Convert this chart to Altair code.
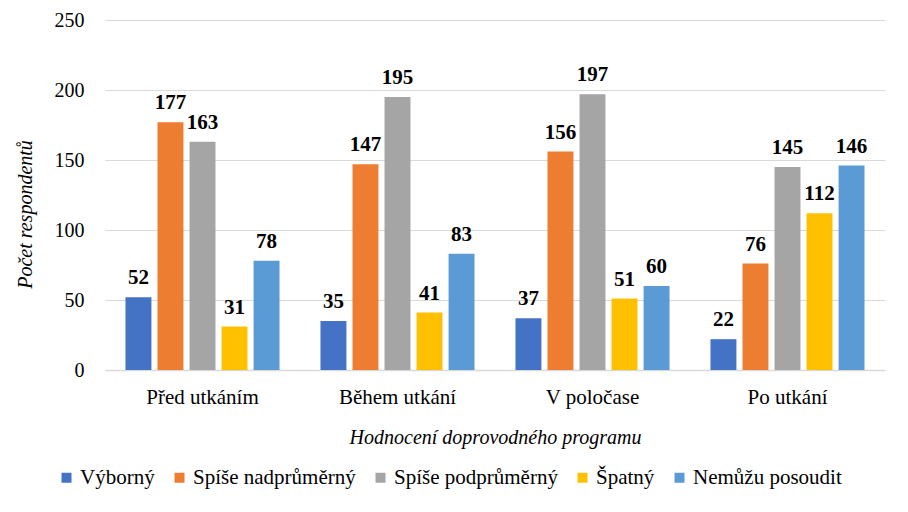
import altair as alt
import pandas as pd

categories = ["Před utkáním", "Během utkání", "V poločase", "Po utkání"]
series = ["Výborný", "Spíše nadprůměrný", "Spíše podprůměrný", "Špatný", "Nemůžu posoudit"]
colors = ["#4472C4", "#ED7D31", "#A5A5A5", "#FFC000", "#5B9BD5"]
vyborny = [52, 35, 37, 22]
nadprumerny = [177, 147, 156, 76]
podprumerny = [163, 195, 197, 145]
spatny = [31, 41, 51, 112]
nemuzu = [78, 83, 60, 146]

values = [vyborny, nadprumerny, podprumerny, spatny, nemuzu]
rows = []
for s, vals in zip(series, values):
    for c, v in zip(categories, vals):
        rows.append({"cat": c, "series": s, "value": v})
df = pd.DataFrame(rows)

font = "Liberation Serif"

x = alt.X("cat:N", sort=categories,
          scale=alt.Scale(paddingInner=0.21, paddingOuter=0.105),
          axis=alt.Axis(title="Hodnocení doprovodného programu", labelAngle=0,
                        titleFont=font, labelFont=font,
                        titleFontStyle="italic", titleFontWeight="normal",
                        titleFontSize=20, titleY=57, titleBaseline="top",
                        labelFontSize=21, labelPadding=16,
                        domainColor="#d9d9d9", domainWidth=1.5,
                        ticks=False, labelColor="black", titleColor="black"))
xo = alt.XOffset("series:N", sort=series, scale=alt.Scale(paddingInner=0.19))
y = alt.Y("value:Q", scale=alt.Scale(domain=[0, 250], nice=False),
          axis=alt.Axis(title="Počet respondentů", values=[0, 50, 100, 150, 200, 250],
                        titleFont=font, labelFont=font,
                        titleFontStyle="italic", titleFontWeight="normal",
                        titleFontSize=20, titleX=-70, titleY=194,
                        labelFontSize=20, labelPadding=21, domain=False, ticks=False,
                        gridColor="#d9d9d9", gridWidth=1,
                        labelColor="black", titleColor="black"))
color = alt.Color("series:N", sort=series,
                  scale=alt.Scale(domain=series, range=colors),
                  legend=alt.Legend(title=None, orient="none", direction="horizontal",
                                    legendX=-49, legendY=447, symbolType="square",
                                    symbolSize=100, symbolStrokeWidth=0,
                                    labelFont=font, labelColor="black", labelLimit=400,
                                    labelFontSize=21, labelOffset=3, columnPadding=14))

bars = alt.Chart(df).mark_bar().encode(x=x, xOffset=xo, y=y, color=color)
labels = alt.Chart(df).mark_text(baseline="alphabetic", dy=-13, fontWeight="bold",
                                 fontSize=21, font=font, color="black").encode(
    x=alt.X("cat:N", sort=categories), xOffset=alt.XOffset("series:N", sort=series),
    y="value:Q", text="value:Q")

chart = (bars + labels).properties(
    width=780, height=350,
    autosize=alt.AutoSizeParams(type="none"),
    padding={"left": 97, "top": 12, "right": 15, "bottom": 122},
    background="white",
).configure_view(stroke=None)

chart.save("out.html", embed_options={"renderer": "svg", "actions": False})
